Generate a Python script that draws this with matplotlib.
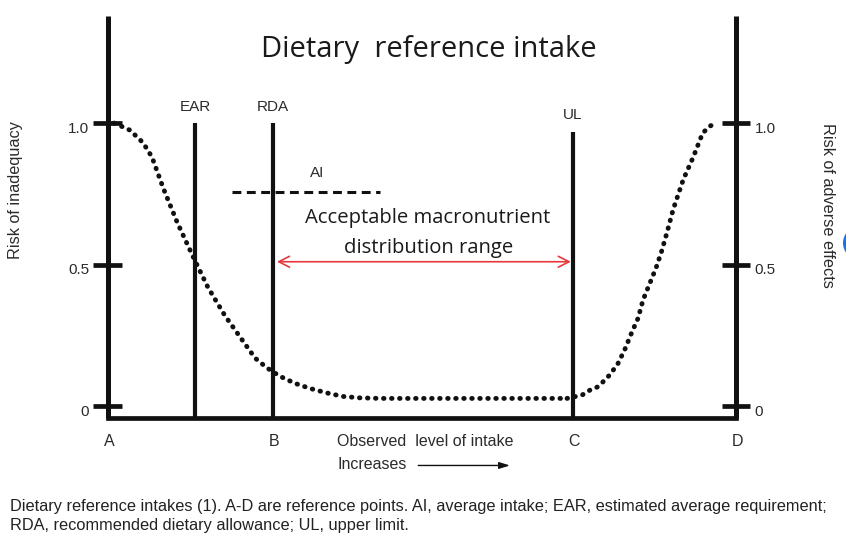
import matplotlib
matplotlib.use("Agg")
import matplotlib.pyplot as plt
from matplotlib.patches import Ellipse

plt.rcParams["font.family"] = ["Liberation Sans", "DejaVu Sans"]

# --- Data ------------------------------------------------------------------
# reference points on the intake axis (arbitrary units, A = 0, D = 10)
point_names = ["A", "B", "C", "D"]
point_x = [0.0, 2.63, 7.40, 10.0]

ear_x = 1.385
rda_x = 2.63
ul_x = 7.40

risk_ticks = [0.0, 0.5, 1.0]
risk_tick_labels = ["0", "0.5", "1.0"]

# risk of inadequacy (dotted curve, left part)
inadequacy_x = [0.10, 0.35, 0.56, 0.70, 0.88, 1.10, 1.35, 1.59, 1.86, 2.10,
                2.34, 2.53, 2.74, 2.98, 3.22, 3.49, 3.74, 4.01, 4.33, 7.31]
inadequacy_y = [1.00, 0.975, 0.93, 0.88, 0.77, 0.65, 0.53, 0.42, 0.32, 0.245,
                0.17, 0.135, 0.105, 0.08, 0.062, 0.046, 0.034, 0.029, 0.027, 0.027]

# risk of adverse effects (dotted curve, right part)
adverse_x = [7.31, 7.55, 7.68, 7.79, 7.88, 7.99, 8.12, 8.23, 8.34, 8.44,
             8.52, 8.63, 8.73, 8.82, 8.91, 9.00, 9.16, 9.32, 9.47, 9.59, 9.70]
adverse_y = [0.027, 0.039, 0.057, 0.067, 0.085, 0.11, 0.15, 0.20, 0.26, 0.31,
             0.375, 0.435, 0.49, 0.55, 0.62, 0.695, 0.80, 0.88, 0.965, 0.99, 1.00]

# AI: average intake band (dashed)
ai_x = [1.97, 4.33]
ai_y = 0.756

# acceptable macronutrient distribution range (RDA -> UL)
amdr_y = 0.51

TEXT_COLOR = "#2b2b2b"
LINE_COLOR = "#111111"
RED = "#e8383d"
FS = 11.5  # size of the small Arial-like labels

CAPTION = ("Dietary reference intakes (1). A-D are reference points. AI, average intake; "
           "EAR, estimated average requirement;\nRDA, recommended dietary allowance; UL, upper limit.")


def build_plot(save_path):
    fig = plt.figure(figsize=(8.46, 5.43), dpi=100)
    ax = fig.add_axes([0, 0, 1, 1])
    ax.set_xlim(-1.72, 11.752)
    ax.set_ylim(-0.484, 1.435)
    ax.axis("off")

    base_y = -0.042
    top_y = 1.38

    # frame: two risk axes and the intake baseline
    ax.plot([point_x[0], point_x[0]], [base_y, top_y], color=LINE_COLOR, lw=3.6, solid_capstyle="butt")
    ax.plot([point_x[-1], point_x[-1]], [base_y, top_y], color=LINE_COLOR, lw=3.6, solid_capstyle="butt")
    ax.plot([point_x[0], point_x[-1]], [base_y, base_y], color=LINE_COLOR, lw=3.4, solid_capstyle="projecting")

    # ticks on both risk axes
    for t, lab in zip(risk_ticks, risk_tick_labels):
        ax.plot([point_x[0] - 0.24, point_x[0] + 0.22], [t, t], color=LINE_COLOR, lw=3.4, solid_capstyle="butt")
        ax.plot([point_x[-1] - 0.22, point_x[-1] + 0.22], [t, t], color=LINE_COLOR, lw=3.4, solid_capstyle="butt")
        ax.text(point_x[0] - 0.30, t - 0.02, lab, ha="right", va="center", fontsize=FS - 0.5, color=TEXT_COLOR)
        ax.text(point_x[-1] + 0.30, t - 0.02, lab, ha="left", va="center", fontsize=FS - 0.5, color=TEXT_COLOR)

    # EAR / RDA / UL verticals
    for x, top, lab in [(ear_x, 1.0, "EAR"), (rda_x, 1.0, "RDA"), (ul_x, 0.97, "UL")]:
        ax.plot([x, x], [base_y, top], color=LINE_COLOR, lw=3.0, solid_capstyle="butt")
        ax.text(x, top + 0.058, lab, ha="center", va="center", fontsize=FS - 0.5, color=TEXT_COLOR)

    # dotted risk curves
    dots = dict(color=LINE_COLOR, lw=3.5, linestyle=(0, (0.1, 1.55)), dash_capstyle="round")
    ax.plot(inadequacy_x, inadequacy_y, **dots)
    ax.plot(adverse_x, adverse_y, **dots)

    # AI dashed line
    ax.plot(ai_x, [ai_y, ai_y], color=LINE_COLOR, lw=2.2, linestyle=(0, (2.9, 1.8)))
    ax.text(3.33, 0.823, "AI", ha="center", va="center", fontsize=FS - 0.5, color=TEXT_COLOR)

    # AMDR red double arrow
    ax.annotate("", xy=(ul_x - 0.03, amdr_y), xytext=(rda_x + 0.06, amdr_y),
                arrowprops=dict(arrowstyle="<->,head_length=0.55,head_width=0.28",
                                color=RED, lw=1.2, shrinkA=0, shrinkB=0, mutation_scale=14))
    ax.text(5.09, 0.664, "Acceptable macronutrient", ha="center", va="center",
            fontsize=14.6, family="Open Sans", color="#1a1a1a")
    ax.text(5.11, 0.560, "distribution range", ha="center", va="center",
            fontsize=14.6, family="Open Sans", color="#1a1a1a")

    # title
    ax.text(5.11, 1.233, "Dietary  reference intake", ha="center", va="baseline",
            fontsize=21, family="Open Sans", color="#1a1a1a")

    # reference points and x description
    for name, x in zip(point_names, point_x):
        ax.text(x + 0.02, -0.127, name, ha="center", va="center", fontsize=FS, color=TEXT_COLOR)
    ax.text(3.65, -0.127, "Observed  level of intake", ha="left", va="center", fontsize=FS, color=TEXT_COLOR)
    ax.text(3.65, -0.208, "Increases", ha="left", va="center", fontsize=FS, color=TEXT_COLOR)
    ax.annotate("", xy=(6.40, -0.210), xytext=(4.94, -0.210),
                arrowprops=dict(arrowstyle="-|>,head_length=0.8,head_width=0.25",
                                color=LINE_COLOR, lw=1.0, shrinkA=0, shrinkB=0, mutation_scale=8))

    # axis titles
    ax.text(-1.48, 0.763, "Risk of inadequacy", rotation=90, ha="center", va="center",
            fontsize=FS + 0.2, color=TEXT_COLOR)
    ax.text(11.46, 0.71, "Risk of adverse effects", rotation=270, ha="center", va="center",
            fontsize=FS + 0.2, color=TEXT_COLOR)

    # caption under the figure
    fig.text(10 / 846, 1 - 499 / 543, CAPTION, ha="left", va="top", fontsize=11.8,
             color="#222222", linespacing=1.3)

    # little blue badge cut by the right edge
    fig.add_artist(Ellipse((860 / 846, 1 - 243 / 543), 34 / 846, 34 / 543,
                           transform=fig.transFigure, color="#1a73e8", lw=0))

    fig.savefig(save_path, dpi=100)


if __name__ == "__main__":
    build_plot("out.png")
